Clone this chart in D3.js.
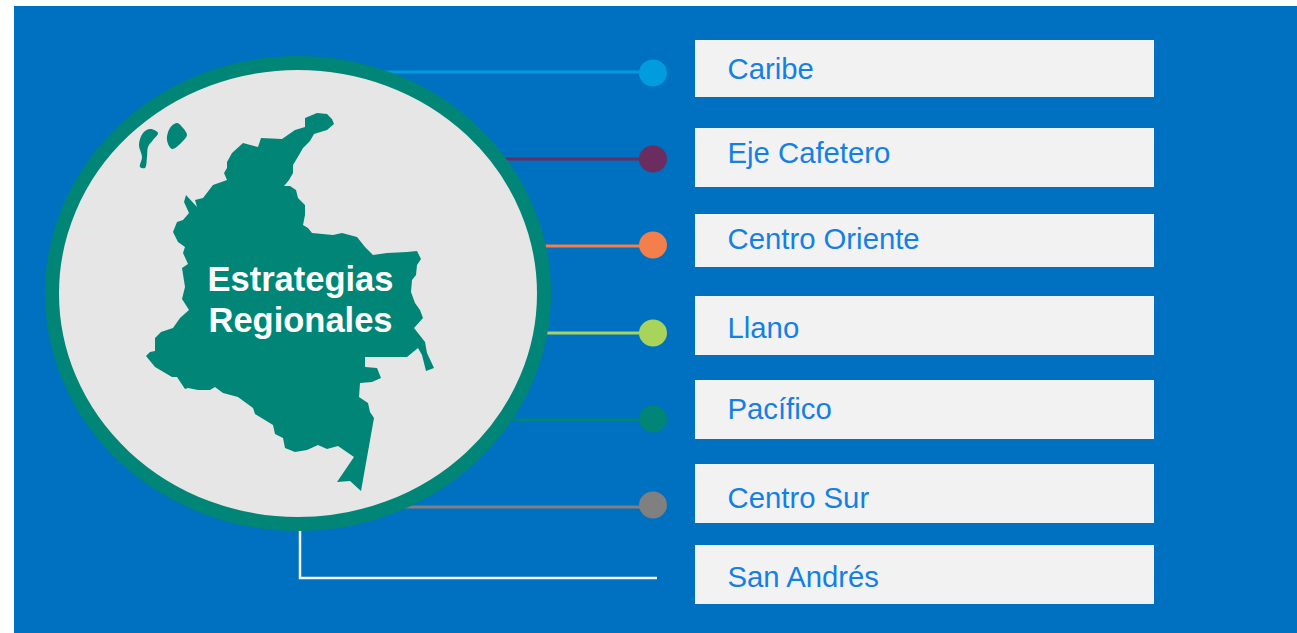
<!DOCTYPE html>
<html>
<head>
<meta charset="utf-8">
<script src="https://cdn.jsdelivr.net/npm/d3@7"></script>
<style>
    html, body { margin: 0; padding: 0; background: #fff; overflow: hidden; }
    svg { display: block; font-family: "Liberation Sans", Arial, sans-serif; }
</style>
</head>
<body>
<svg width="1297" height="633"></svg>
<script>
const regions = ["Caribe", "Eje Cafetero", "Centro Oriente", "Llano", "Pacífico", "Centro Sur", "San Andrés"];
const regionColors = ["#009CDE", "#6B2C5F", "#F47F4A", "#A9D45C", "#008576", "#808080", "#F2F2F2"];
const title = ["Estrategias", "Regionales"];

// outline of the mainland (map units, 0-300 wide)
const mainland = [
    [177,13],[187,14],[192,19],[194,24],[187,30],[174,34],[170,41],[163,48],[159,55],[153,65],
    [153,73],[149,80],[144,86],[150,86],[156,90],[158,98],[165,105],[165,115],[163,125],[168,128],
    [172,133],[193,135],[202,133],[217,137],[225,147],[233,155],[247,153],[267,152],[277,151],[281,159],
    [277,165],[276,175],[272,180],[271,192],[275,203],[280,210],[283,218],[274,228],[285,242],[287,253],
    [294,268],[286,271],[282,255],[278,248],[267,257],[225,257],[225,267],[237,268],[241,278],[232,282],
    [220,283],[219,297],[228,303],[230,312],[234,318],[221,391],[210,381],[197,382],[214,357],[198,346],
    [187,349],[178,345],[167,350],[155,352],[145,348],[143,338],[135,334],[133,325],[115,314],[113,308],
    [98,297],[83,293],[75,287],[70,290],[58,290],[48,288],[45,289],[37,277],[32,277],[15,267],
    [6,256],[10,252],[15,251],[15,238],[21,232],[33,228],[40,218],[49,210],[42,199],[45,187],
    [42,168],[48,164],[43,153],[45,147],[38,142],[33,132],[37,122],[43,120],[49,113],[44,102],
    [46,95],[57,107],[55,100],[63,98],[73,85],[87,80],[84,73],[87,68],[87,62],[92,53],
    [103,43],[118,47],[121,38],[142,39],[155,30],[165,27],[165,18]
];
const islandWest = [[10,29],[18,33],[13,40],[8,47],[7,57],[5,68],[0,67],[2,57],[-1,45],[3,33]];
const islandEast = [[37,23],[43,28],[47,35],[42,42],[32,49],[27,40],[30,28]];

const svg = d3.select("svg");

// positions of the rows, one per region
const boxTop = d3.scaleOrdinal().domain(regions).range([40, 128, 214, 296, 380, 464, 545]);
const boxBottom = d3.scaleOrdinal().domain(regions).range([97, 187, 267, 355, 439, 523, 604]);
const baseline = d3.scaleOrdinal().domain(regions).range([79, 162.5, 249, 338, 419, 508, 587]);
const lineY = d3.scaleOrdinal().domain(regions).range([72, 159, 246, 333, 420, 507, 578]);
const dotY = d3.scaleOrdinal().domain(regions).range([73, 159, 245, 333, 419, 505, 578]);
const color = d3.scaleOrdinal().domain(regions).range(regionColors);

const mapX = d3.scaleLinear().domain([0, 300]).range([140, 440]);
const mapY = d3.scaleLinear().domain([0, 400]).range([100, 500]);
const shape = d3.line().x(d => mapX(d[0])).y(d => mapY(d[1])).curve(d3.curveLinearClosed);
const islandShape = d3.line().x(d => mapX(d[0])).y(d => mapY(d[1])).curve(d3.curveCatmullRomClosed);

// background
svg.append("rect")
    .attr("x", 14).attr("y", 6)
    .attr("width", 1283).attr("height", 627)
    .attr("fill", "#0070C0");

// connectors, they run under the circle
const withDot = regions.slice(0, 6);
const last = regions[6];

svg.append("g")
    .selectAll("line")
    .data(withDot)
    .join("line")
    .attr("x1", 298).attr("x2", 653)
    .attr("y1", d => lineY(d)).attr("y2", d => lineY(d))
    .attr("stroke", d => color(d))
    .attr("stroke-width", 3);

svg.append("path")
    .attr("d", d3.line()([[300, 520], [300, lineY(last)], [657, lineY(last)]]))
    .attr("fill", "none")
    .attr("stroke", color(last))
    .attr("stroke-width", 2.5);

svg.append("g")
    .selectAll("ellipse")
    .data(withDot)
    .join("ellipse")
    .attr("cx", 653)
    .attr("cy", d => dotY(d))
    .attr("rx", 14).attr("ry", 13.5)
    .attr("fill", d => color(d));

// circle with the map
svg.append("ellipse")
    .attr("cx", 298).attr("cy", 293.5)
    .attr("rx", 246).attr("ry", 230.5)
    .attr("fill", "#E6E6E6")
    .attr("stroke", "#008576")
    .attr("stroke-width", 14);

svg.append("path")
    .attr("d", shape(mainland))
    .attr("fill", "#008576");

svg.append("g")
    .selectAll("path")
    .data([islandWest, islandEast])
    .join("path")
    .attr("d", islandShape)
    .attr("fill", "#008576");

svg.append("g")
    .selectAll("text")
    .data(title)
    .join("text")
    .attr("x", 300.5)
    .attr("y", (d, i) => 291 + i * 41)
    .attr("text-anchor", "middle")
    .attr("font-size", 34.5)
    .attr("font-weight", "bold")
    .attr("fill", "#fff")
    .text(d => d);

// boxes on the right
const rows = svg.append("g")
    .selectAll("g")
    .data(regions)
    .join("g");

rows.append("rect")
    .attr("x", 695)
    .attr("y", d => boxTop(d))
    .attr("width", 459)
    .attr("height", d => boxBottom(d) - boxTop(d))
    .attr("fill", "#F2F2F2");

rows.append("text")
    .attr("x", 727.5)
    .attr("y", d => baseline(d))
    .attr("font-size", 29.3)
    .attr("fill", "#1480E6")
    .text(d => d);
</script>
</body>
</html>
